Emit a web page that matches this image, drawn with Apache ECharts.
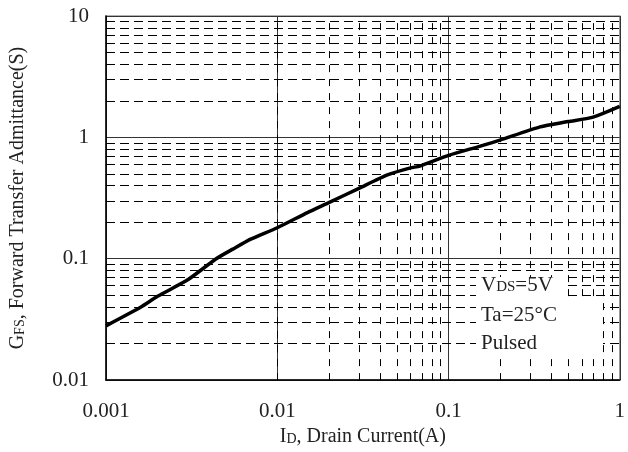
<!DOCTYPE html>
<html>
<head>
<meta charset="utf-8">
<script src="https://cdn.jsdelivr.net/npm/echarts@6/dist/echarts.min.js"></script>
<style>
  html, body { margin: 0; padding: 0; background: #fff; }
  #chart { width: 628px; height: 452px; }
</style>
</head>
<body>
<div id="chart"></div>
<script>
// drain current (A) vs forward transfer admittance (S)
var currentA = [0.001, 0.0016, 0.002, 0.003, 0.0044, 0.0055, 0.007, 0.01, 0.015, 0.02, 0.03, 0.044, 0.06, 0.068, 0.1, 0.15, 0.2, 0.336, 0.5, 0.69, 1];
var admittanceS = [0.028, 0.040, 0.049, 0.067, 0.1, 0.12, 0.145, 0.18, 0.24, 0.29, 0.38, 0.49, 0.56, 0.58, 0.71, 0.84, 0.95, 1.21, 1.35, 1.46, 1.80];

var xTickLabels = ['0.001', '0.01', '0.1', '1'];
var yTickLabels = ['0.01', '0.1', '1', '10'];

// minor grid (dashed)
var xMinor = [0.002, 0.003, 0.004, 0.005, 0.006, 0.007, 0.008, 0.009,
              0.02, 0.03, 0.04, 0.05, 0.06, 0.07, 0.08, 0.09,
              0.2, 0.3, 0.4, 0.5, 0.6, 0.7, 0.8, 0.9];
var yMinor = [0.02, 0.03, 0.04, 0.05, 0.06, 0.07, 0.08, 0.09,
              0.2, 0.3, 0.4, 0.5, 0.6, 0.7, 0.8, 0.9,
              2, 3, 4, 5, 6, 7, 8, 9];

var FONT = '"Liberation Serif", "DejaVu Serif", serif';

var chart = echarts.init(document.getElementById('chart'));

var minorLines = [];
xMinor.forEach(function (v) {
    minorLines.push({ xAxis: v, lineStyle: { type: [7, 7] } });
});
yMinor.forEach(function (v) {
    minorLines.push({ yAxis: v, lineStyle: { type: [9, 5] } });
});

chart.setOption({
    animation: false,
    grid: {
        left: 106, right: 3, top: 16, bottom: 71,
        show: true,
        borderColor: '#999',
        borderWidth: 1.5
    },
    xAxis: {
        type: 'log',
        logBase: 10,
        min: 0.001,
        max: 1,
        name: '{b|I}{s|D}{b|, Drain Current(A)}',
        nameLocation: 'middle',
        nameGap: 44,
        nameTextStyle: {
            rich: {
                b: { fontFamily: FONT, fontSize: 20, color: '#222', verticalAlign: 'bottom' },
                s: { fontFamily: FONT, fontSize: 14, color: '#222', verticalAlign: 'bottom', padding: [0, 0, 1, 0] }
            }
        },
        axisLine: { show: true, lineStyle: { color: '#000', width: 1.5 } },
        axisTick: { show: false },
        axisLabel: {
            margin: 21,
            fontFamily: FONT,
            fontSize: 21,
            color: '#222',
            formatter: function (v, i) { return xTickLabels[i]; }
        },
        splitLine: { show: true, lineStyle: { color: '#333', width: 1 } }
    },
    yAxis: {
        type: 'log',
        logBase: 10,
        min: 0.01,
        max: 10,
        name: '{b|G}{s|FS}{b|, Forward Transfer Admittance(S)}',
        nameLocation: 'middle',
        nameRotate: 90,
        nameGap: 78,
        nameTextStyle: {
            rich: {
                b: { fontFamily: FONT, fontSize: 20, color: '#222', verticalAlign: 'bottom' },
                s: { fontFamily: FONT, fontSize: 14, color: '#222', verticalAlign: 'bottom', padding: [0, 0, 1, 0] }
            }
        },
        axisLine: { show: true, lineStyle: { color: '#000', width: 1.5 } },
        axisTick: { show: false },
        axisLabel: {
            margin: 17,
            fontFamily: FONT,
            fontSize: 21,
            color: '#222',
            formatter: function (v, i) { return yTickLabels[i]; }
        },
        splitLine: { show: true, lineStyle: { color: '#333', width: 1 } }
    },
    series: [{
        type: 'line',
        data: currentA.map(function (x, i) { return [x, admittanceS[i]]; }),
        showSymbol: false,
        smooth: 0.2,
        lineStyle: { color: '#000', width: 3.5 },
        z: 10,
        markLine: {
            silent: true,
            symbol: 'none',
            label: { show: false },
            lineStyle: { color: '#000', width: 1 },
            z: 3,
            data: minorLines
        }
    }],
    graphic: [
        { type: 'rect', shape: { x: 476, y: 277, width: 91, height: 78 }, style: { fill: '#fff' }, z: 20 },
        { type: 'rect', shape: { x: 567, y: 300, width: 36, height: 55 }, style: { fill: '#fff' }, z: 20 },
        {
            type: 'text', left: 481, top: 275, z: 21,
            style: {
                text: '{n|V}{s|DS}{n|=5V}',
                rich: {
                    n: { fontFamily: FONT, fontSize: 21, fill: '#222', verticalAlign: 'bottom' },
                    s: { fontFamily: FONT, fontSize: 15, fill: '#222', verticalAlign: 'bottom', padding: [0, 0, 1, 0] }
                }
            }
        },
        {
            type: 'text', left: 481, top: 305, z: 21,
            style: { text: 'Ta=25°C', font: '21px ' + FONT, fill: '#222' }
        },
        {
            type: 'text', left: 481, top: 333, z: 21,
            style: { text: 'Pulsed', font: '21px ' + FONT, fill: '#222' }
        }
    ]
});
</script>
</body>
</html>
